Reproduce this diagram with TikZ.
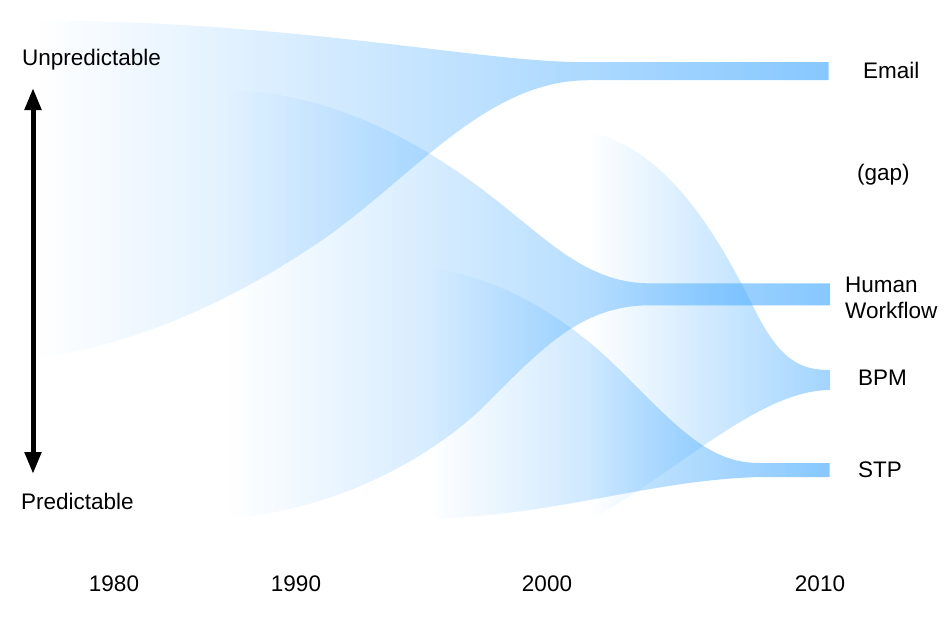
\documentclass[tikz,border=0pt]{standalone}
\usepackage{fontspec}
\setmainfont{Liberation Sans}
\usetikzlibrary{arrows.meta,fadings}
\definecolor{flowblue}{RGB}{70,170,255}
\tikzfading[name=fromleft, left color=transparent!100, right color=transparent!0]
\begin{document}
\begin{tikzpicture}[x=1pt,y=-1pt,
  flow/.style={fill=flowblue, fill opacity=0.65, path fading=fromleft},
  lbl/.style={inner sep=0pt, font=\fontsize{22.5}{26}\selectfont},
  axisarrow/.style={line width=5pt, {Triangle[width=16pt,length=22pt]}-{Triangle[width=16pt,length=22pt]}}
]
\useasboundingbox (0,0) rectangle (947,622);
\fill[white] (0,0) rectangle (947,622);

% Email flow (from 1980)
\path[flow] (40,20) .. controls (300,22) and (470,60) .. (580,62) -- (830,62) -- (830,80) -- (590,80)
  .. controls (490,80) and (420,170) .. (330,235) .. controls (230,305) and (130,345) .. (40,358) -- cycle;
% Human Workflow flow (from 1990)
\path[flow] (230,90) .. controls (320,92) and (400,130) .. (470,180) .. controls (540,230) and (580,283) .. (650,283)
  -- (830,283) -- (830,305) -- (650,305) .. controls (580,305) and (540,350) .. (480,410)
  .. controls (420,465) and (330,510) .. (230,518) -- cycle;
% STP flow (from 2000)
\path[flow] (430,268) .. controls (490,275) and (560,310) .. (620,370) .. controls (680,430) and (710,463) .. (760,463)
  -- (830,463) -- (830,477) -- (760,477) .. controls (650,480) and (560,515) .. (430,519) -- cycle;
% BPM flow
\path[flow, fill opacity=0.5] (590,132) .. controls (670,150) and (720,240) .. (755,310) .. controls (780,360) and (800,370) .. (830,370)
  -- (830,390) .. controls (760,390) and (680,470) .. (590,520) -- cycle;

% axis
\coordinate (up) at (33,88);
\coordinate (down) at (33,474);
\draw[axisarrow] (up) -- (down);

\node[lbl, anchor=base west] (unpred) at (22,65) {Unpredictable};
\node[lbl, anchor=base west] (pred) at (21,509) {Predictable};

\node[lbl, anchor=base west] (email) at (863,78) {Email};
\node[lbl, anchor=base west] (gap) at (857,180) {(gap)};
\node[lbl, anchor=north west, align=left] (hw) at (845,277) {Human\\Workflow};
\node[lbl, anchor=base west] (bpm) at (858,385) {BPM};
\node[lbl, anchor=base west] (stp) at (858,477) {STP};

\node[lbl, anchor=base] (y1980) at (114,591) {1980};
\node[lbl, anchor=base] (y1990) at (296,591) {1990};
\node[lbl, anchor=base] (y2000) at (547,591) {2000};
\node[lbl, anchor=base] (y2010) at (820,591) {2010};
\end{tikzpicture}
\end{document}
